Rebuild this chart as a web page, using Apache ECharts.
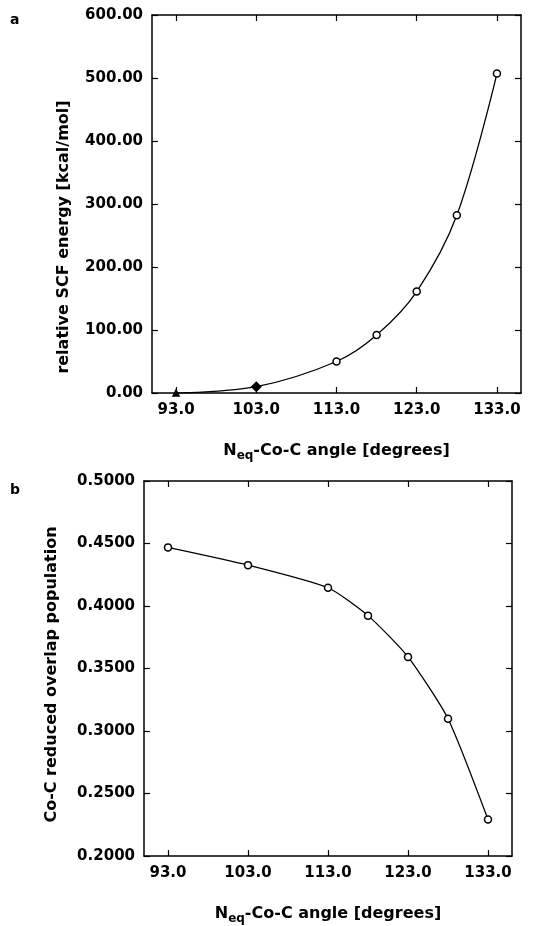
<!DOCTYPE html>
<html>
<head>
<meta charset="utf-8">
<script src="https://cdn.jsdelivr.net/npm/echarts@6/dist/echarts.min.js"></script>
<style>
  html, body { margin: 0; padding: 0; background: #fff; }
  #chart { width: 535px; height: 926px; }
</style>
</head>
<body>
<div id="chart"></div>
<script>
// N_eq-Co-C angle (degrees)
const angles = [93, 103, 113, 118, 123, 128, 133];
// panel a: relative SCF energy, kcal/mol
const energy = [0, 10, 50, 92, 161, 282, 507];
// panel b: Co-C reduced overlap population
const overlap = [0.4469, 0.4327, 0.4146, 0.3923, 0.3593, 0.3098, 0.2292];
const angleTicks = [93, 103, 113, 123, 133];

const FONT = 'DejaVu Sans';
const txt = { fontFamily: FONT, fontWeight: 'bold', fontSize: 15, color: '#000' };
const nameTxt = { ...txt, fontSize: 16 };

const chart = echarts.init(document.getElementById('chart'));

const xName = '{n|N}{s|eq}{n|-Co-C angle [degrees]}';
const xNameStyle = {
    ...nameTxt,
    rich: {
        n: { ...nameTxt, lineHeight: 22 },
        s: { ...nameTxt, fontSize: 12, lineHeight: 22, padding: [10, 0, 0, 0] }
    }
};

function xAxisFor(gridIndex, main) {
    return {
        type: 'value',
        gridIndex,
        position: main ? 'bottom' : 'top',
        min: 90,
        max: 136,
        name: main ? xName : '',
        nameLocation: 'middle',
        nameGap: 47,
        nameTextStyle: xNameStyle,
        axisLine: { show: true, onZero: false, lineStyle: { color: '#000', width: 1.5 } },
        axisTick: { show: true, inside: true, length: 6, customValues: angleTicks, lineStyle: { color: '#000', width: 1.2 } },
        axisLabel: {
            show: main,
            customValues: angleTicks,
            margin: 10,
            ...txt,
            formatter: v => v.toFixed(1)
        },
        splitLine: { show: false }
    };
}

// shift: extra right padding on the rotated name moves it down the axis
function yAxisFor(gridIndex, main, min, max, interval, digits, name, gap, shift) {
    return {
        type: 'value',
        gridIndex,
        position: main ? 'left' : 'right',
        min, max, interval,
        name: main ? name : '',
        nameLocation: 'middle',
        nameGap: gap,
        nameRotate: 90,
        nameTextStyle: { ...nameTxt, padding: [0, shift || 0, 0, 0] },
        axisLine: { show: true, onZero: false, lineStyle: { color: '#000', width: 1.5 } },
        axisTick: { show: true, inside: true, length: 6, lineStyle: { color: '#000', width: 1.2 } },
        axisLabel: {
            show: main,
            margin: 9,
            ...txt,
            formatter: v => v.toFixed(digits)
        },
        splitLine: { show: false }
    };
}

const hollow = { color: '#fff', borderColor: '#000', borderWidth: 1.5 };

const energyData = angles.map((a, i) => {
    const p = { value: [a, energy[i]] };
    if (i === 0) { p.symbol = 'triangle'; p.symbolSize = 6; p.itemStyle = { color: '#000', borderColor: '#000' }; }
    if (i === 1) { p.symbol = 'diamond'; p.symbolSize = 9; p.itemStyle = { color: '#000', borderColor: '#000' }; }
    return p;
});

const option = {
    backgroundColor: '#fff',
    animation: false,
    graphic: [
        { type: 'text', left: 10, top: 13, style: { text: 'a', font: 'bold 14px "DejaVu Sans"', fill: '#000' } },
        { type: 'text', left: 10, top: 483, style: { text: 'b', font: 'bold 14px "DejaVu Sans"', fill: '#000' } }
    ],
    grid: [
        { left: 152, top: 15, width: 369, height: 378 },
        { left: 144, top: 481, width: 368, height: 377 }
    ],
    xAxis: [
        xAxisFor(0, true), xAxisFor(0, false),
        xAxisFor(1, true), xAxisFor(1, false)
    ],
    yAxis: [
        yAxisFor(0, true, 0, 600, 100, 2, 'relative SCF energy [kcal/mol]', 80, 66),
        yAxisFor(0, false, 0, 600, 100, 2, '', 0),
        yAxisFor(1, true, 0.2, 0.5, 0.05, 4, 'Co-C reduced overlap population', 84, 12),
        yAxisFor(1, false, 0.2, 0.5, 0.05, 4, '', 0)
    ],
    series: [
        {
            type: 'line',
            xAxisIndex: 0, yAxisIndex: 0,
            data: energyData,
            smooth: 0.35,
            symbol: 'circle',
            symbolSize: 7,
            itemStyle: hollow,
            lineStyle: { color: '#000', width: 1.3 }
        },
        {
            type: 'line',
            xAxisIndex: 2, yAxisIndex: 2,
            data: angles.map((a, i) => [a, overlap[i]]),
            smooth: 0.2,
            symbol: 'circle',
            symbolSize: 7,
            itemStyle: hollow,
            lineStyle: { color: '#000', width: 1.3 }
        }
    ]
};

chart.setOption(option);
</script>
</body>
</html>
